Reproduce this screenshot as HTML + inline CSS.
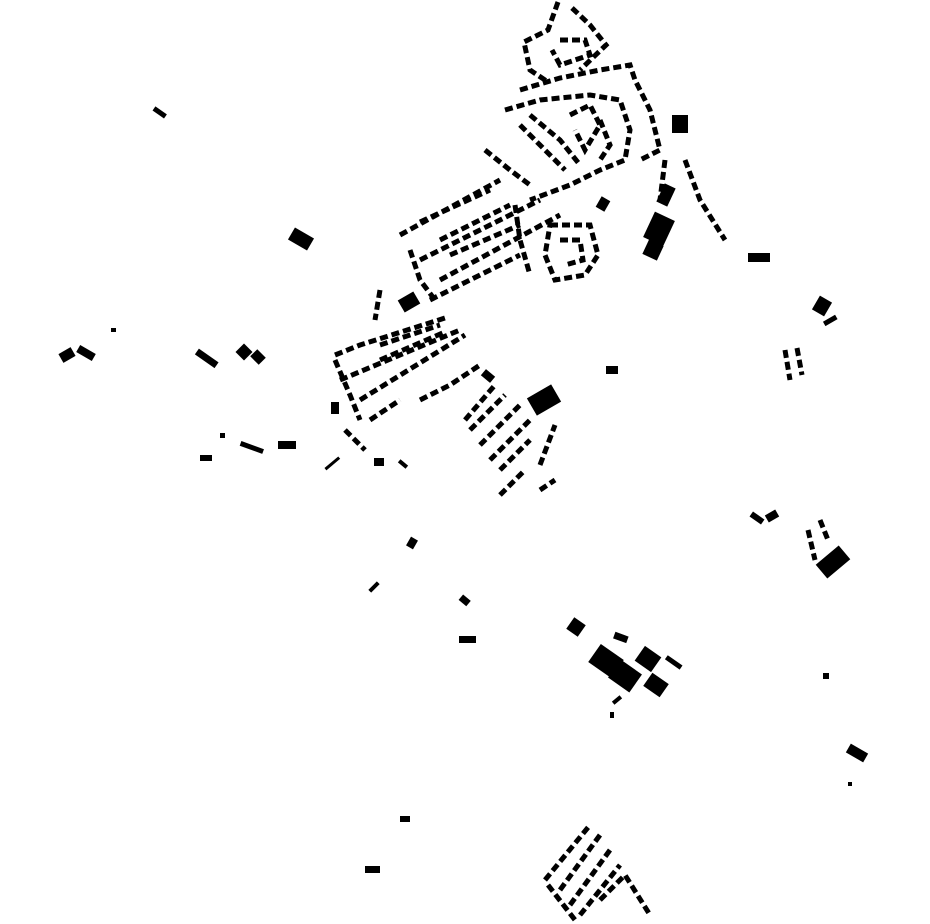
<!DOCTYPE html>
<html><head><style>html,body{margin:0;padding:0;background:#fff}svg{display:block}</style></head>
<body>
<svg width="930" height="924" viewBox="0 0 930 924" xmlns="http://www.w3.org/2000/svg">
<g fill="none" stroke="#000" stroke-width="5" stroke-dasharray="8 4">
<path d="M558,2 L548,30 L524,42 L530,70 L548,82"/>
<path d="M572,8 L590,25 L606,45 L580,70"/>
<path d="M560,40 L585,40 L590,55 L560,65 L552,50"/>
<path d="M520,90 L560,78 L600,70 L630,65 L635,80 L650,110 L660,150 L640,160"/>
<path d="M505,110 L540,100 L590,95 L620,100 L630,130 L625,160 L600,170 L570,185 L530,200"/>
<path d="M570,115 L590,105 L600,125 L585,150 L575,130"/>
<path d="M520,125 L545,150 L565,170"/>
<path d="M530,115 L560,140 L580,165"/>
<path d="M600,120 L610,145 L600,160"/>
<path d="M485,150 L510,170 L530,185"/>
<path d="M400,235 L500,180"/>
<path d="M420,222 L490,190"/>
<path d="M420,260 L540,200"/>
<path d="M440,280 L560,215"/>
<path d="M430,300 L520,255"/>
<path d="M440,240 L510,205"/>
<path d="M450,255 L520,225"/>
<path d="M410,250 L420,280 L435,300"/>
<path d="M515,205 L520,240 L530,275"/>
<path d="M550,225 L590,225 L598,255 L585,275 L555,280 L545,255 Z"/>
<path d="M560,240 L580,240 L583,260 L565,265"/>
<path d="M335,355 L360,345 L445,318"/>
<path d="M340,380 L460,330"/>
<path d="M360,400 L465,335"/>
<path d="M370,420 L400,400"/>
<path d="M380,345 L440,325"/>
<path d="M380,360 L445,332"/>
<path d="M335,360 L350,395 L360,420"/>
<path d="M345,430 L365,450"/>
<path d="M420,400 L450,385 L480,365"/>
<path d="M665,160 L660,200"/>
<path d="M685,160 L700,200 L725,240"/>
<path d="M465,420 L495,385"/>
<path d="M470,430 L505,395"/>
<path d="M480,445 L520,405"/>
<path d="M490,460 L530,420"/>
<path d="M500,470 L530,440"/>
<path d="M500,495 L525,470"/>
<path d="M540,490 L555,480"/>
<path d="M540,465 L555,425"/>
<path d="M545,880 L590,825"/>
<path d="M560,890 L600,835"/>
<path d="M570,905 L610,850"/>
<path d="M580,915 L620,865"/>
<path d="M600,900 L625,875 L650,915"/>
<path d="M548,885 L575,920"/>
<path d="M808,530 L815,560"/>
<path d="M820,520 L828,540"/>
<path d="M785,350 L790,380"/>
<path d="M797,348 L802,375"/>
<path d="M380,290 L375,320"/>
</g>
<g fill="#000">
<rect x="672" y="115" width="16" height="18"/>
<rect x="648" y="215" width="22" height="28" transform="rotate(25 659 229)"/>
<rect x="645" y="242" width="16" height="16" transform="rotate(25 653 250)"/>
<rect x="660" y="185" width="12" height="20" transform="rotate(25 666 195)"/>
<rect x="748" y="253" width="22" height="9"/>
<rect x="815" y="298" width="14" height="16" transform="rotate(30 822 306)"/>
<rect x="598" y="198" width="10" height="12" transform="rotate(30 603 204)"/>
<rect x="290" y="232" width="22" height="14" transform="rotate(30 301 239)"/>
<rect x="153" y="110" width="14" height="5" transform="rotate(35 160 112)"/>
<rect x="60" y="350" width="14" height="10" transform="rotate(-30 67 355)"/>
<rect x="77" y="349" width="18" height="8" transform="rotate(30 86 353)"/>
<rect x="195" y="355" width="24" height="7" transform="rotate(35 207 358)"/>
<rect x="238" y="346" width="12" height="12" transform="rotate(45 244 352)"/>
<rect x="252" y="352" width="12" height="10" transform="rotate(45 258 357)"/>
<rect x="278" y="441" width="18" height="8"/>
<rect x="240" y="445" width="24" height="5" transform="rotate(20 252 447)"/>
<rect x="400" y="295" width="18" height="14" transform="rotate(-30 409 302)"/>
<rect x="331" y="402" width="8" height="12"/>
<rect x="374" y="458" width="10" height="8"/>
<rect x="530" y="390" width="28" height="20" transform="rotate(-30 544 400)"/>
<rect x="408" y="538" width="8" height="10" transform="rotate(30 412 543)"/>
<rect x="460" y="597" width="10" height="7" transform="rotate(40 465 600)"/>
<rect x="459" y="636" width="17" height="7"/>
<rect x="569" y="620" width="14" height="14" transform="rotate(35 576 627)"/>
<rect x="592" y="650" width="28" height="22" transform="rotate(35 606 661)"/>
<rect x="612" y="665" width="26" height="22" transform="rotate(35 625 676)"/>
<rect x="638" y="650" width="20" height="18" transform="rotate(35 648 659)"/>
<rect x="646" y="677" width="20" height="16" transform="rotate(35 656 685)"/>
<rect x="614" y="634" width="14" height="7" transform="rotate(20 621 637)"/>
<rect x="818" y="553" width="30" height="18" transform="rotate(-40 833 562)"/>
<rect x="750" y="515" width="14" height="6" transform="rotate(35 757 518)"/>
<rect x="766" y="512" width="12" height="8" transform="rotate(-30 772 516)"/>
<rect x="847" y="748" width="20" height="10" transform="rotate(30 857 753)"/>
<rect x="823" y="673" width="6" height="6"/>
<rect x="400" y="816" width="10" height="6"/>
<rect x="365" y="866" width="15" height="7"/>
<rect x="368" y="585" width="12" height="4" transform="rotate(-45 374 587)"/>
<rect x="606" y="366" width="12" height="8"/>
<rect x="323" y="462" width="18" height="3" transform="rotate(-40 332 463)"/>
<rect x="200" y="455" width="12" height="6"/>
<rect x="220" y="433" width="5" height="5"/>
<rect x="111" y="328" width="5" height="4"/>
<rect x="398" y="462" width="10" height="4" transform="rotate(40 403 464)"/>
<rect x="823" y="318" width="14" height="5" transform="rotate(-30 830 320)"/>
<rect x="610" y="712" width="4" height="6"/>
<rect x="612" y="698" width="10" height="4" transform="rotate(-40 617 700)"/>
<rect x="665" y="660" width="18" height="5" transform="rotate(35 674 662)"/>
<rect x="848" y="782" width="4" height="4"/>
<rect x="482" y="372" width="12" height="8" transform="rotate(40 488 376)"/>
</g>
</svg>
</body></html>
